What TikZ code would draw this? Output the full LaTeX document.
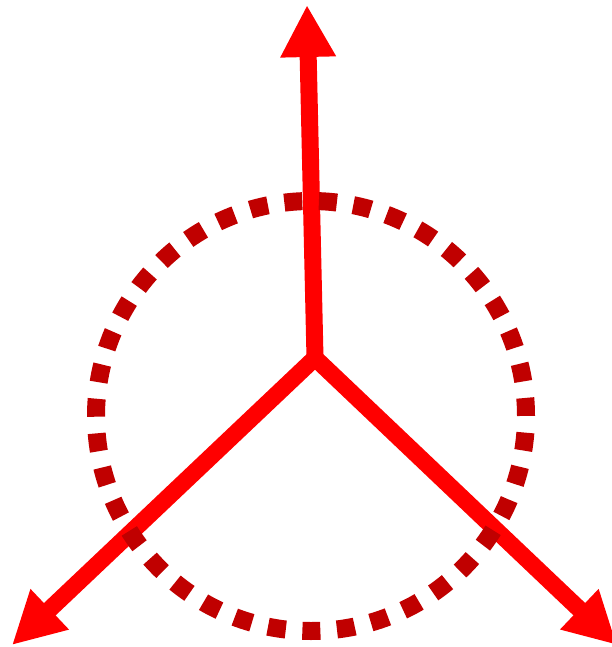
\documentclass[tikz,border=0pt]{standalone}
\usetikzlibrary{arrows.meta}
\definecolor{arrowred}{HTML}{FF0000}
\definecolor{dashred}{HTML}{C00000}
\begin{document}
\begin{tikzpicture}[x=1pt,y=-1pt,
  vec/.style={draw=arrowred,line width=17pt,-{Triangle[length=52pt,width=52pt]}},
  ring/.style={draw=dashred,line width=18pt,dash pattern=on 18pt off 16.64pt,dash phase=18pt}]
\useasboundingbox (0,0) rectangle (612,647);
\clip (0,0) rectangle (612,647);
\coordinate (o) at (315,358);
\coordinate (up) at (307,5);
\coordinate (dl) at (12,645);
\coordinate (dr) at (617,645);
\coordinate (c) at (311,416);
\draw[vec] (o) -- (up);
\draw[vec] (o) -- (dl);
\draw[vec] (o) -- (dr);
\draw[vec,-] ([yshift=-8pt]o) -- (o);
\path[ring] (c) circle[radius=215];
\end{tikzpicture}
\end{document}
